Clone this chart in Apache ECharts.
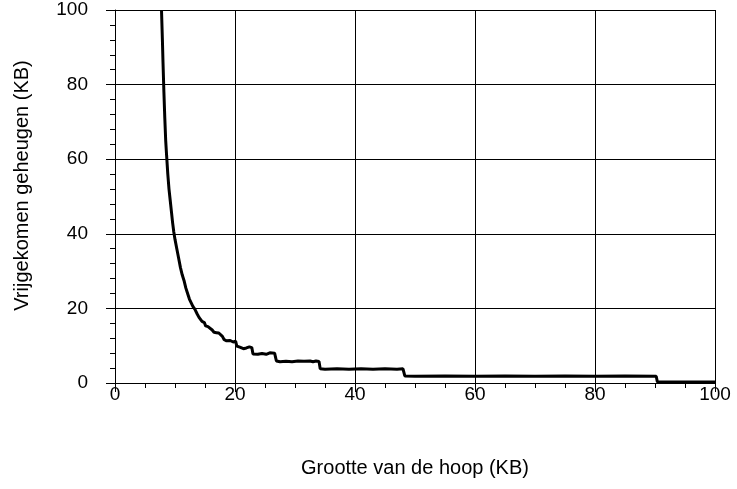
<!DOCTYPE html>
<html>
<head>
<meta charset="utf-8">
<script src="https://cdn.jsdelivr.net/npm/echarts@6/dist/echarts.min.js"></script>
<style>
	html, body { margin: 0; padding: 0; background: #fff; }
	#main { width: 737px; height: 489px; }
</style>
</head>
<body>
<div id="main"></div>
<script>
// grootte van de hoop (KB)
var heapSize = [7.75, 7.9, 8.0, 8.15, 8.3, 8.45, 8.6, 8.8, 9.0, 9.2, 9.4, 9.6, 9.8, 10.0, 10.3, 10.6, 10.9, 11.2, 11.5, 11.8,
	12.1, 12.4, 12.7, 13.0, 13.3, 13.5, 13.7, 14.0, 14.3, 14.5, 14.9, 15.1, 15.5, 15.8, 16.2, 16.5, 16.9, 17.3, 17.6, 17.9,
	18.2, 18.6, 19.2, 19.7, 20.1, 20.3, 20.8, 21.4, 21.9, 22.4, 22.8, 23.0, 23.8, 24.5, 25.2, 25.8, 26.6, 26.9, 27.5, 28.5,
	29.5, 30.5, 31.5, 32.5, 33.0, 33.5, 34.0, 34.2, 35, 37, 39, 41, 43, 45, 47, 48.0, 48.3, 50, 55, 60,
	65, 70, 75, 80, 85, 90.2, 90.4, 100];
// vrijgekomen geheugen (KB)
var freed = [100, 92, 86, 78, 71, 65, 61, 56, 52, 49, 46, 43, 40.5, 38.5, 36, 33.5, 31, 29, 27.5, 25.5,
	24, 22.5, 21.5, 20.5, 19.8, 20.2, 18.5, 17.6, 17.9, 16.5, 16.2, 15.3, 15.1, 14.6, 14.2, 13.6, 13.5, 13.4, 13.6, 12.5,
	11.6, 11.3, 11.4, 11.0, 11.2, 9.9, 9.6, 9.2, 9.4, 9.7, 9.5, 7.8, 7.7, 7.9, 7.7, 8.1, 8.0, 5.9, 5.7, 5.8,
	5.7, 5.9, 5.8, 5.9, 5.7, 5.9, 5.8, 3.8, 3.7, 3.8, 3.7, 3.8, 3.7, 3.8, 3.7, 3.8, 1.9, 1.8, 1.85, 1.8,
	1.85, 1.8, 1.85, 1.8, 1.85, 1.8, 0.25, 0.25];

var lineData = [];
for (var i = 0; i < heapSize.length; i++) {
	lineData.push([heapSize[i], freed[i]]);
}

var font = 'Arial, "Liberation Sans", sans-serif';

var option = {
	animation: false,
	backgroundColor: '#fff',
	grid: {
		left: 115,
		right: 22,
		top: 10,
		bottom: 106
	},
	xAxis: {
		type: 'value',
		min: 0,
		max: 100,
		interval: 20,
		name: 'Grootte van de hoop (KB)',
		nameLocation: 'middle',
		nameGap: 75,
		nameTextStyle: { color: '#000', fontSize: 20, fontFamily: font },
		axisLine: { show: true, lineStyle: { color: '#000', width: 1 } },
		axisTick: { show: true, length: 9, lineStyle: { color: '#000' } },
		minorTick: { show: true, splitNumber: 4, length: 5, lineStyle: { color: '#000' } },
		axisLabel: { color: '#000', fontSize: 19, fontFamily: font, margin: 2 },
		splitLine: { show: true, lineStyle: { color: '#000', width: 1 } }
	},
	yAxis: {
		type: 'value',
		min: 0,
		max: 100,
		interval: 20,
		name: 'Vrijgekomen geheugen (KB)',
		nameLocation: 'middle',
		nameGap: 83,
		nameTextStyle: { color: '#000', fontSize: 20, fontFamily: font, padding: [0, 0, 0, 22] },
		axisLine: { show: true, lineStyle: { color: '#000', width: 1 } },
		axisTick: { show: true, length: 9, lineStyle: { color: '#000' } },
		minorTick: { show: true, splitNumber: 5, length: 5, lineStyle: { color: '#000' } },
		axisLabel: { color: '#000', fontSize: 19, fontFamily: font, margin: 27, padding: [6, 0, 0, 0] },
		splitLine: { show: true, lineStyle: { color: '#000', width: 1 } }
	},
	series: [{
		type: 'line',
		data: lineData,
		showSymbol: false,
		symbol: 'none',
		clip: true,
		lineStyle: { color: '#000', width: 3 }
	}]
};

var myChart = echarts.init(document.getElementById('main'));
myChart.setOption(option);
</script>
</body>
</html>
